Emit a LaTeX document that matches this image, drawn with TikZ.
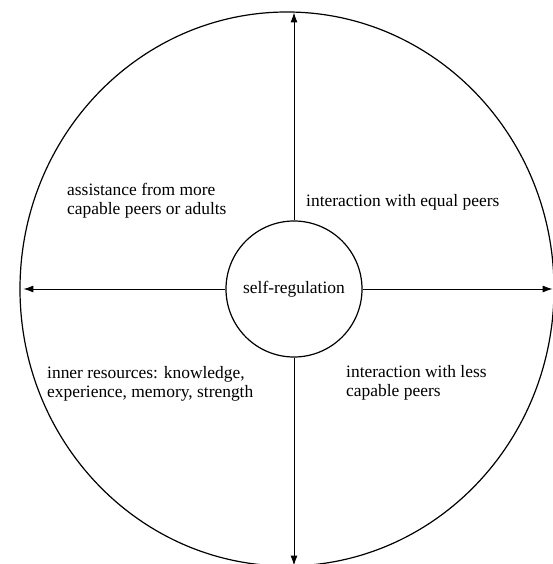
\documentclass[tikz,border=0pt]{standalone}
\usepackage{fontspec}
\setmainfont{Liberation Serif}
\usetikzlibrary{arrows.meta,shapes.geometric}
\begin{document}
\begin{tikzpicture}[x=1bp,y=-1bp,
  ring/.style={draw, line width=1.2bp, inner sep=0pt},
  arr/.style={line width=1bp, -{Latex[length=10bp,width=7bp]}},
  lbl/.style={font=\fontsize{17.5}{19}\selectfont, align=left, inner sep=0pt, anchor=west}]
\fill[white] (0,0) rectangle (553,564);
\useasboundingbox (0,0) rectangle (553,564);
\node[ring, ellipse, minimum width=534bp, minimum height=554bp] (outer) at (287,289) {};
\node[ring, circle, minimum size=136bp, font=\fontsize{17.5}{19}\selectfont] (self) at (294,289) {self-regulation};
\draw[arr, shorten >=1bp] (self.north) -- (outer.north -| self.north);
\draw[arr, shorten >=1bp] (self.south) -- (outer.south -| self.south);
\draw[arr, shorten >=4bp] (self.west) -- (outer.west);
\draw[arr, shorten >=2bp] (self.east) -- (outer.east);
\node[lbl] (assist) at (67,201) {assistance from more\\capable peers or adults};
\node[lbl] (equal) at (306,202) {interaction with equal peers};
\node[lbl] (inner) at (47,383.5) {inner resources: knowledge,\\experience, memory, strength};
\node[lbl] (less) at (346,382.5) {interaction with less\\capable peers};
\end{tikzpicture}
\end{document}
